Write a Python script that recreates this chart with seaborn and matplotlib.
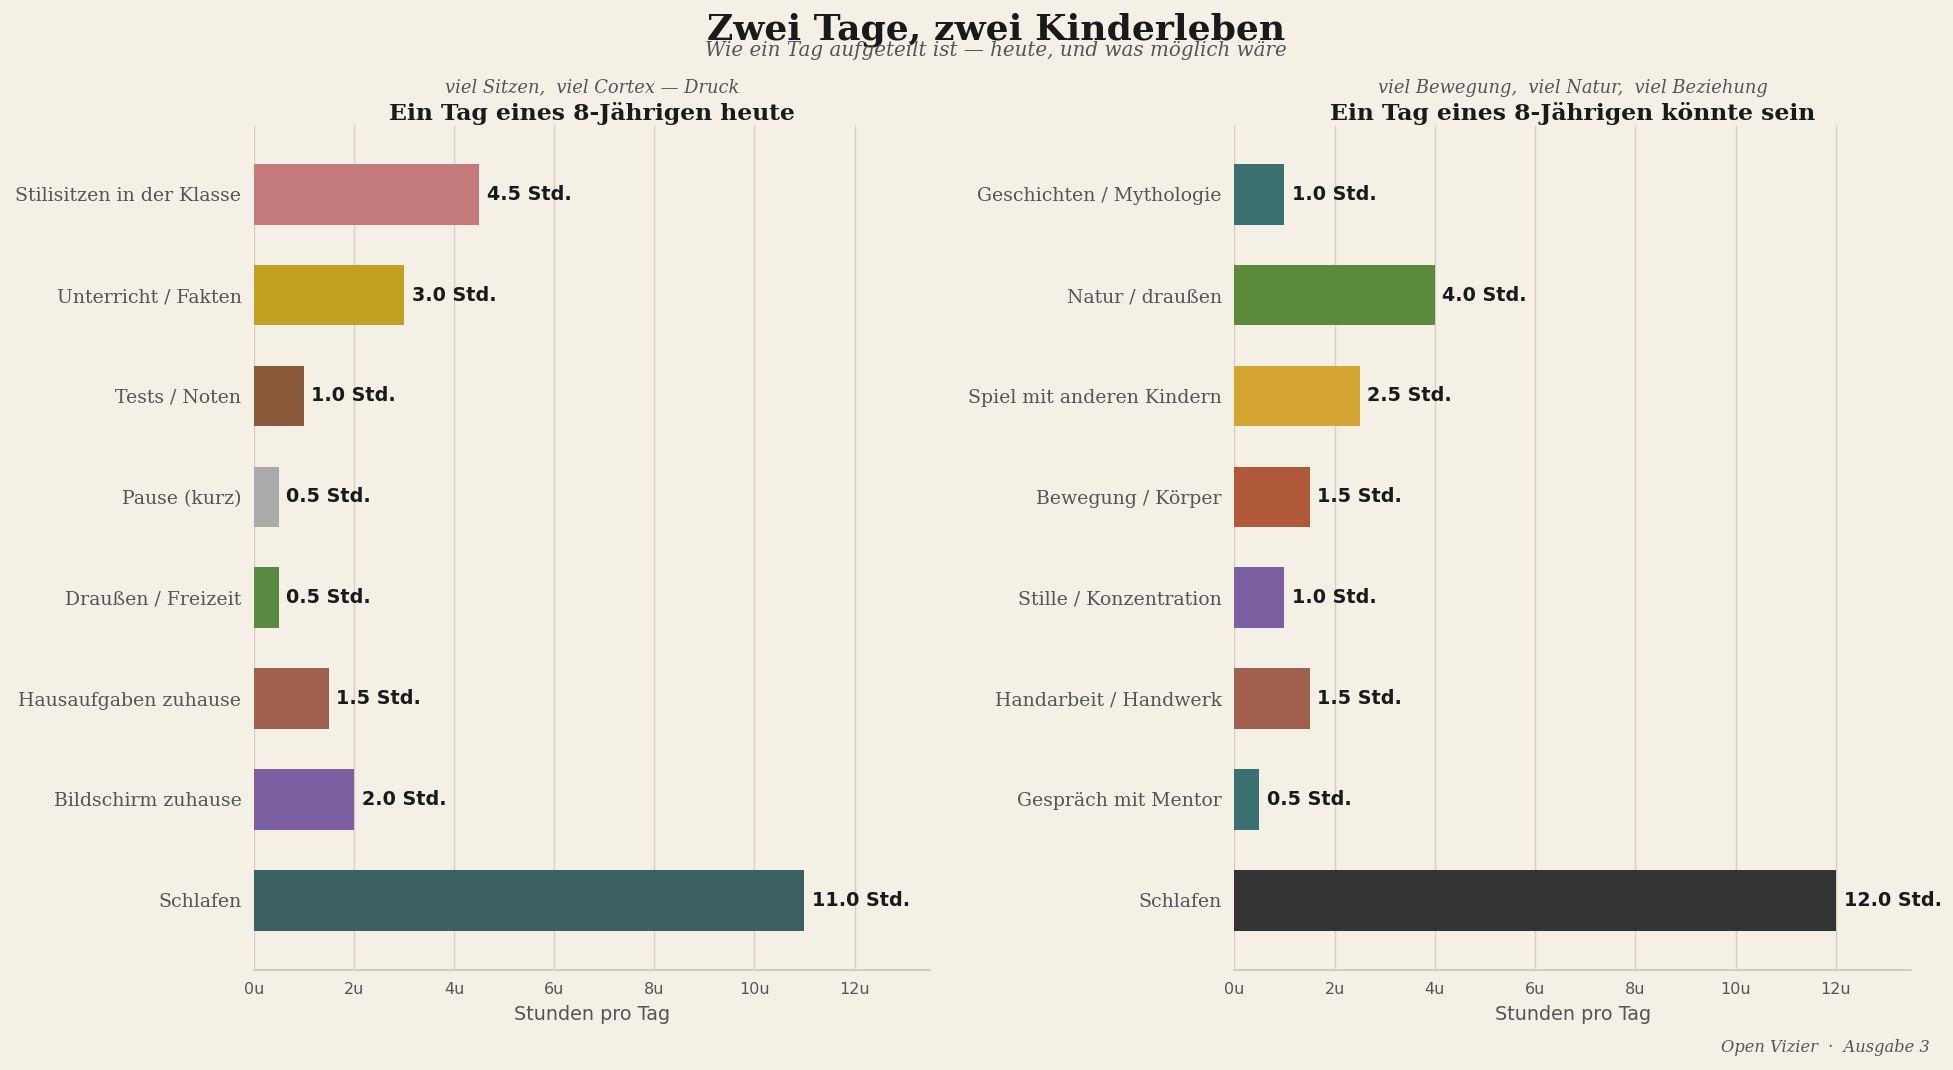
import seaborn as sns
import pandas as pd
from matplotlib import pyplot as plt

# data
heute_labels = ["Stilisitzen in der Klasse", "Unterricht / Fakten", "Tests / Noten", "Pause (kurz)",
                "Draußen / Freizeit", "Hausaufgaben zuhause", "Bildschirm zuhause", "Schlafen"]
heute_hours = [4.5, 3.0, 1.0, 0.5, 0.5, 1.5, 2.0, 11.0]
heute_colors = ["#c47a7a", "#c4a020", "#8b5a38", "#aaaaaa", "#5a8a42", "#a0604e", "#7a60a0", "#3a6060"]

moeglich_labels = ["Geschichten / Mythologie", "Natur / draußen", "Spiel mit anderen Kindern",
                   "Bewegung / Körper", "Stille / Konzentration", "Handarbeit / Handwerk",
                   "Gespräch mit Mentor", "Schlafen"]
moeglich_hours = [1.0, 4.0, 2.5, 1.5, 1.0, 1.5, 0.5, 12.0]
moeglich_colors = ["#3a7070", "#5a8a3a", "#d4a530", "#b05a3a", "#7a60a0", "#a0604e", "#3a7070", "#333333"]

xticks = [0, 2, 4, 6, 8, 10, 12]

bg = "#f5f0e6"
sns.set_theme(style="white")
plt.rcParams['font.family'] = ['DejaVu Sans']

fig = plt.figure(figsize=(19.53, 10.7), dpi=100, facecolor=bg)
ax1 = fig.add_axes([0.130, 0.0935, 0.346, 0.790])
ax2 = fig.add_axes([0.632, 0.0935, 0.3466, 0.790])


def panel(ax, labels, hours, colors, title, sub):
    df = pd.DataFrame({"cat": labels, "h": hours})
    sns.barplot(data=df, y="cat", x="h", hue="cat", palette=colors, legend=False,
                width=0.6, saturation=1, linewidth=0, ax=ax, zorder=3)
    ax.set_facecolor(bg)
    ax.set_xlim(0, 13.5)
    ax.set_ylim(7.69, -0.69)
    ax.set_xticks(xticks)
    ax.set_xticklabels([f"{t}u" for t in xticks], fontsize=11.5, color="#555555")
    ax.set_yticks(range(len(labels)))
    ax.set_yticklabels(labels, family="DejaVu Serif", fontsize=13.6, color="#555555")
    ax.tick_params(axis="y", length=0, pad=9)
    ax.tick_params(axis="x", length=5, color="#999999", colors="#555555")
    ax.set_ylabel("")
    ax.set_xlabel("Stunden pro Tag", fontsize=13.8, color="#555555", labelpad=6)
    ax.grid(axis="x", color="#d6d0c4", linewidth=1, zorder=0)
    for s in ["top", "right", "left"]:
        ax.spines[s].set_visible(False)
    ax.spines["bottom"].set_color("#d0cbc0")
    ax.spines["bottom"].set_linewidth(1.3)
    for i, v in enumerate(hours):
        ax.text(v + 0.15, i, f"{v:.1f} Std.", va="center", ha="left", fontsize=13.8,
                fontweight="bold", color="#1a1a1a")
    ax.set_title(title, family="DejaVu Serif", fontsize=16.9, fontweight="bold",
                 color="#1a1a1a", pad=3)
    ax.text(0.5, 1.033, sub, transform=ax.transAxes, ha="center", va="bottom",
            family="DejaVu Serif", style="italic", fontsize=12.9, color="#555555")


panel(ax1, heute_labels, heute_hours, heute_colors,
      "Ein Tag eines 8-Jährigen heute", "viel Sitzen,  viel Cortex — Druck")
panel(ax2, moeglich_labels, moeglich_hours, moeglich_colors,
      "Ein Tag eines 8-Jährigen könnte sein", "viel Bewegung,  viel Natur,  viel Beziehung")

fig.text(0.51, 0.972, "Zwei Tage, zwei Kinderleben", ha="center", va="center",
         family="DejaVu Serif", fontsize=26, fontweight="bold", color="#1a1a1a")
fig.text(0.51, 0.953, "Wie ein Tag aufgeteilt ist — heute, und was möglich wäre", ha="center",
         va="center", family="DejaVu Serif", style="italic", fontsize=14.3, color="#555555")
fig.text(0.988, 0.021, "Open Vizier  ·  Ausgabe 3", ha="right", va="center",
         family="DejaVu Serif", style="italic", fontsize=11.7, color="#555555")

fig.savefig("out.png", dpi=100, facecolor=bg)
